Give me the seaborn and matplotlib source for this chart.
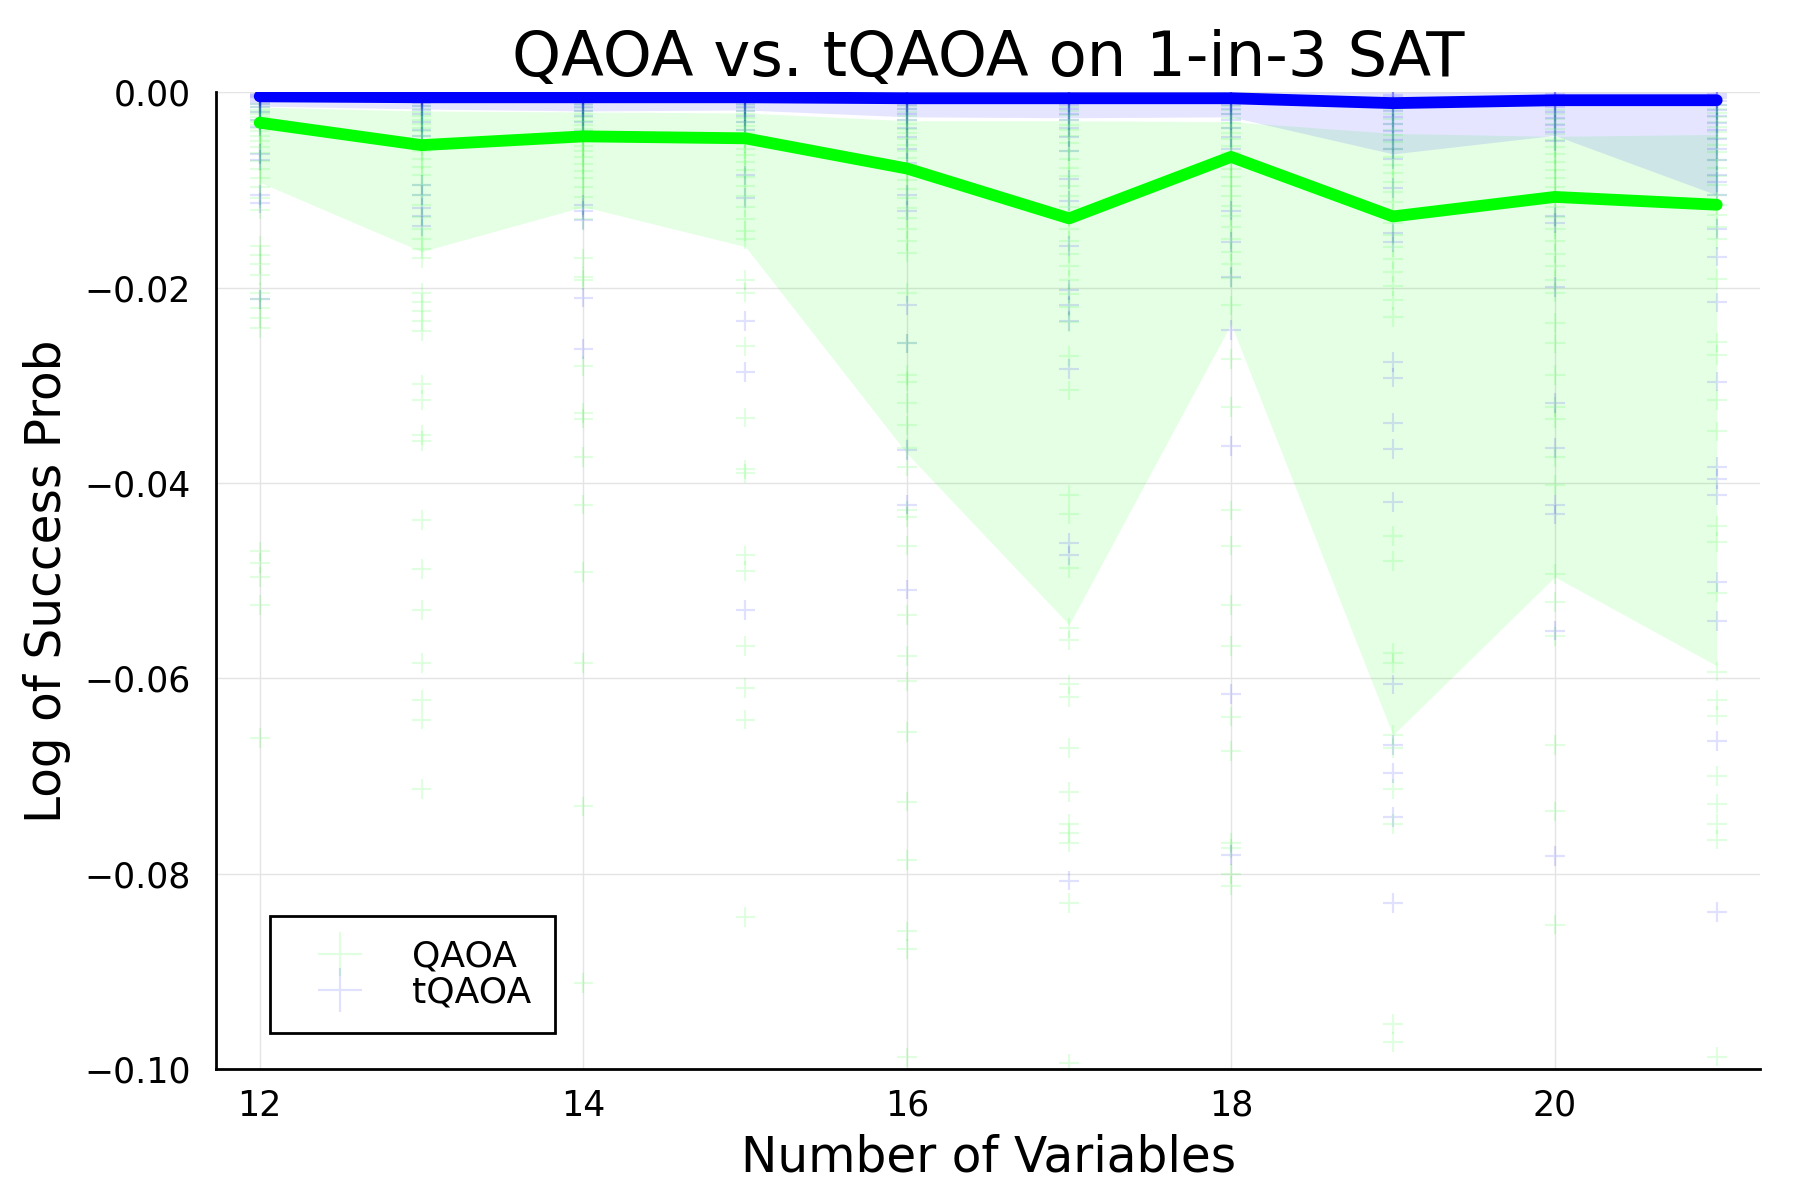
import numpy as np
import pandas as pd
import seaborn as sns
import matplotlib.pyplot as plt

# number of variables on the x axis
n_vars = [12, 13, 14, 15, 16, 17, 18, 19, 20, 21]

# medians (thick lines)
qaoa_median = [-0.0031, -0.0054, -0.0045, -0.0047, -0.0078, -0.0129, -0.0066, -0.0127, -0.0107, -0.0115]
tqaoa_median = [-0.0004, -0.0005, -0.0005, -0.0005, -0.0006, -0.0006, -0.0006, -0.0011, -0.0008, -0.0008]

# ribbons
qaoa_upper = [-0.0015, -0.0019, -0.0020, -0.0021, -0.0029, -0.0029, -0.0030, -0.0042, -0.0045, -0.0043]
qaoa_lower = [-0.0092, -0.0163, -0.0117, -0.0158, -0.0370, -0.0545, -0.0237, -0.0658, -0.0496, -0.0587]
tqaoa_upper = [0.0, 0.0, 0.0, 0.0, 0.0, 0.0, 0.0, 0.0, 0.0, 0.0]
tqaoa_lower = [-0.0014, -0.0017, -0.0019, -0.0018, -0.0025, -0.0026, -0.0025, -0.0063, -0.0044, -0.0105]

# individual instances, one list per number of variables
qaoa_points = [
    [-0.0012, -0.0015, -0.0018, -0.002, -0.0022, -0.0025, -0.0028, -0.003, -0.0033, -0.0036, -0.004,
     -0.0045, -0.005, -0.0056, -0.0062, -0.007, -0.0078, -0.0088, -0.0097, -0.0108, -0.012,
     -0.0157, -0.0166, -0.0176, -0.0187, -0.0205, -0.0212, -0.0221, -0.0231, -0.0241,
     -0.047, -0.0482, -0.0496, -0.0525, -0.0661],
    [-0.0014, -0.0017, -0.002, -0.0024, -0.0028, -0.0032, -0.0036, -0.004, -0.0045, -0.005, -0.0055,
     -0.006, -0.0068, -0.0076, -0.0085, -0.0095, -0.0105, -0.0115, -0.0128, -0.014, -0.015, -0.016, -0.017,
     -0.0205, -0.0215, -0.0224, -0.0234, -0.0244, -0.0299, -0.0315, -0.0351, -0.0357, -0.0438,
     -0.0488, -0.053, -0.0584, -0.0622, -0.0642, -0.0713],
    [-0.0013, -0.0016, -0.0019, -0.0022, -0.0025, -0.0029, -0.0033, -0.0037, -0.0041, -0.0045, -0.005,
     -0.0055, -0.006, -0.0066, -0.0073, -0.008, -0.0088, -0.0097, -0.0107, -0.0118, -0.013,
     -0.017, -0.0189, -0.0192, -0.028, -0.0328, -0.0334, -0.0373, -0.0422, -0.0491, -0.0584,
     -0.0731, -0.0912],
    [-0.0013, -0.0016, -0.0019, -0.0022, -0.0026, -0.003, -0.0034, -0.0038, -0.0042, -0.0047, -0.0052,
     -0.0058, -0.0064, -0.0071, -0.0079, -0.0087, -0.0096, -0.0106, -0.0117, -0.013, -0.0142, -0.015,
     -0.0192, -0.0205, -0.026, -0.0333, -0.0386, -0.039, -0.0474, -0.049, -0.0567, -0.061, -0.0642,
     -0.0844],
    [-0.0014, -0.0017, -0.002, -0.0024, -0.0028, -0.0032, -0.0037, -0.0042, -0.0048, -0.0054, -0.006,
     -0.0067, -0.0074, -0.0082, -0.009, -0.0099, -0.0108, -0.0118, -0.0129, -0.014, -0.0152, -0.0164,
     -0.0205, -0.0257, -0.0289, -0.0296, -0.0318, -0.0341, -0.0364, -0.0383, -0.0428, -0.0435,
     -0.0464, -0.0535, -0.0577, -0.0603, -0.0655, -0.0726, -0.0786, -0.0859, -0.0877, -0.0988],
    [-0.0015, -0.0019, -0.0023, -0.0028, -0.0033, -0.0039, -0.0045, -0.0052, -0.006, -0.0068, -0.0077,
     -0.0086, -0.0096, -0.0106, -0.0117, -0.0128, -0.014, -0.0152, -0.0165, -0.0178, -0.0192, -0.0206,
     -0.022, -0.0235, -0.027, -0.0305, -0.0412, -0.0432, -0.0487, -0.0548, -0.0561, -0.0606, -0.0619,
     -0.0671, -0.0716, -0.0749, -0.0758, -0.0768, -0.083, -0.0994],
    [-0.0014, -0.0018, -0.0022, -0.0026, -0.0031, -0.0036, -0.0042, -0.0048, -0.0055, -0.0062, -0.007,
     -0.0078, -0.0087, -0.0096, -0.0106, -0.0116, -0.0127, -0.0138, -0.015, -0.0163, -0.0176, -0.019,
     -0.0218, -0.0273, -0.0322, -0.0428, -0.0464, -0.0525, -0.0567, -0.0639, -0.0674, -0.0768,
     -0.0774, -0.08, -0.0812],
    [-0.0018, -0.0022, -0.0027, -0.0032, -0.0038, -0.0044, -0.0051, -0.0058, -0.0066, -0.0074, -0.0083,
     -0.0092, -0.0102, -0.0112, -0.0123, -0.0134, -0.0146, -0.0158, -0.0171, -0.0184, -0.0198, -0.0213,
     -0.023, -0.0454, -0.048, -0.0574, -0.0584, -0.0658, -0.0671, -0.0713, -0.0749, -0.0954, -0.0972],
    [-0.0018, -0.0022, -0.0027, -0.0032, -0.0037, -0.0043, -0.0049, -0.0056, -0.0063, -0.0071, -0.0079,
     -0.0088, -0.0097, -0.0107, -0.0117, -0.0128, -0.014, -0.0152, -0.0165, -0.0178, -0.0192, -0.0205,
     -0.0236, -0.0257, -0.0289, -0.0322, -0.0334, -0.0373, -0.0402, -0.0493, -0.0522, -0.0557,
     -0.0668, -0.0736, -0.0852],
    [-0.0013, -0.0017, -0.0021, -0.0025, -0.003, -0.0035, -0.0041, -0.0047, -0.0054, -0.0061, -0.0069,
     -0.0077, -0.0086, -0.0095, -0.0105, -0.0115, -0.0126, -0.0138, -0.015,
     -0.0191, -0.0256, -0.0269, -0.0315, -0.0347, -0.0444, -0.046, -0.0512, -0.0593, -0.0622,
     -0.0638, -0.07, -0.0728, -0.0749, -0.0765, -0.0987],
]

tqaoa_points = [
    [-0.0002, -0.0003, -0.0004, -0.0005, -0.0006, -0.0008, -0.001, -0.0012, -0.0015, -0.002, -0.0028,
     -0.0035, -0.0063, -0.0069, -0.0105, -0.0113, -0.0212],
    [-0.0002, -0.0003, -0.0004, -0.0005, -0.0007, -0.0009, -0.0011, -0.0014, -0.0018, -0.0022, -0.003,
     -0.0038, -0.0045, -0.0095, -0.0105, -0.0118, -0.0127, -0.0137],
    [-0.0002, -0.0003, -0.0004, -0.0005, -0.0007, -0.0009, -0.0012, -0.0015, -0.0019, -0.0024, -0.003,
     -0.004, -0.0115, -0.0121, -0.0131, -0.021, -0.0263],
    [-0.0002, -0.0003, -0.0004, -0.0005, -0.0007, -0.0009, -0.0012, -0.0015, -0.0019, -0.0024, -0.003,
     -0.0038, -0.0085, -0.0108, -0.0234, -0.0286, -0.053],
    [-0.0002, -0.0003, -0.0004, -0.0006, -0.0008, -0.001, -0.0013, -0.0017, -0.0022, -0.0028, -0.0036,
     -0.0046, -0.0058, -0.0072, -0.0105, -0.0121, -0.0218, -0.0257, -0.0366, -0.0422, -0.0509],
    [-0.0002, -0.0003, -0.0004, -0.0006, -0.0008, -0.001, -0.0013, -0.0017, -0.0022, -0.0028, -0.0036,
     -0.0046, -0.006, -0.0089, -0.0111, -0.0157, -0.0202, -0.0218, -0.0234, -0.0283, -0.0461,
     -0.0474, -0.0807],
    [-0.0002, -0.0003, -0.0004, -0.0006, -0.0008, -0.001, -0.0013, -0.0017, -0.0022, -0.0028, -0.0036,
     -0.0046, -0.0058, -0.0121, -0.0153, -0.0189, -0.0243, -0.0362, -0.0616, -0.0781],
    [-0.0003, -0.0005, -0.0007, -0.001, -0.0014, -0.0019, -0.0025, -0.0032, -0.004, -0.0049, -0.0058,
     -0.0068, -0.0098, -0.0144, -0.0153, -0.0276, -0.0292, -0.0338, -0.0365, -0.0419, -0.0606,
     -0.0668, -0.0697, -0.0742, -0.083],
    [-0.0002, -0.0004, -0.0006, -0.0008, -0.0011, -0.0015, -0.002, -0.0026, -0.0033, -0.0041, -0.005,
     -0.0127, -0.0134, -0.0199, -0.0318, -0.0364, -0.0422, -0.0432, -0.0551, -0.0782],
    [-0.0002, -0.0004, -0.0006, -0.0009, -0.0013, -0.0018, -0.0024, -0.0031, -0.0039, -0.0048, -0.0058,
     -0.0069, -0.0085, -0.0092, -0.0105, -0.014, -0.0168, -0.0215, -0.0296, -0.0383, -0.0396,
     -0.0412, -0.0501, -0.0541, -0.0664, -0.0839],
]

green = '#00ff00'
blue = '#0000ff'

rows = []
for n, pts in zip(n_vars, qaoa_points):
    for p in pts:
        rows.append({'n': n, 'logp': p, 'method': 'QAOA'})
for n, pts in zip(n_vars, tqaoa_points):
    for p in pts:
        rows.append({'n': n, 'logp': p, 'method': 'tQAOA'})
df = pd.DataFrame(rows)

lines = pd.DataFrame({
    'n': n_vars * 2,
    'logp': qaoa_median + tqaoa_median,
    'method': ['QAOA'] * len(n_vars) + ['tQAOA'] * len(n_vars),
})

sns.set_theme(style='white')
plt.rcParams['font.family'] = ['DejaVu Sans']
plt.rcParams['text.color'] = 'black'
plt.rcParams['axes.labelcolor'] = 'black'

fig = plt.figure(figsize=(18, 12), dpi=100)
ax = fig.add_axes([0.12, 0.109, 0.858, 0.814])

# ribbons
ax.fill_between(n_vars, qaoa_lower, qaoa_upper, color=green, alpha=0.1, linewidth=0, zorder=1)
ax.fill_between(n_vars, tqaoa_lower, tqaoa_upper, color=blue, alpha=0.1, linewidth=0, zorder=1)

# instances
sns.scatterplot(data=df, x='n', y='logp', hue='method', palette={'QAOA': green, 'tQAOA': blue},
                marker='+', s=200, alpha=0.12, linewidth=1.6, ax=ax, zorder=2)

# medians
sns.lineplot(data=lines, x='n', y='logp', hue='method', palette={'QAOA': green, 'tQAOA': blue},
             linewidth=8.5, ax=ax, legend=False, zorder=3)

ax.set_xlim(11.73, 21.27)
ax.set_ylim(-0.1, 0.0)
ax.set_xticks([12, 14, 16, 18, 20])
ax.set_yticks([-0.10, -0.08, -0.06, -0.04, -0.02, 0.00])
ax.yaxis.set_major_formatter(plt.FuncFormatter(lambda v, _: f'{v:.2f}'.replace('-', '\u2212')))
ax.grid(True, color='#e4e4e4', linewidth=1.0)
ax.set_axisbelow(True)

for side in ['top', 'right']:
    ax.spines[side].set_visible(False)
for side in ['left', 'bottom']:
    ax.spines[side].set_color('black')
    ax.spines[side].set_linewidth(2)
ax.tick_params(axis='both', direction='in', length=8, width=2, labelsize=25, colors='black')
ax.tick_params(axis='y', pad=18)
ax.tick_params(axis='x', pad=14)

ax.set_title('QAOA vs. tQAOA on 1-in-3 SAT', fontsize=45, pad=12, color='black')
ax.set_xlabel('Number of Variables', fontsize=35, labelpad=8)
ax.set_ylabel('Log of Success Prob', fontsize=35, labelpad=10)

leg = ax.legend(loc='lower left', bbox_to_anchor=(0.03, 0.03), fontsize=26, frameon=True,
                fancybox=False, edgecolor='black', framealpha=1, markerscale=2.2,
                handletextpad=0.7, borderpad=0.65, borderaxespad=0.2, labelspacing=0.05,
                handlelength=2.6)
leg.get_frame().set_linewidth(2)
leg.set_title(None)

fig.savefig('out.png', dpi=100)
